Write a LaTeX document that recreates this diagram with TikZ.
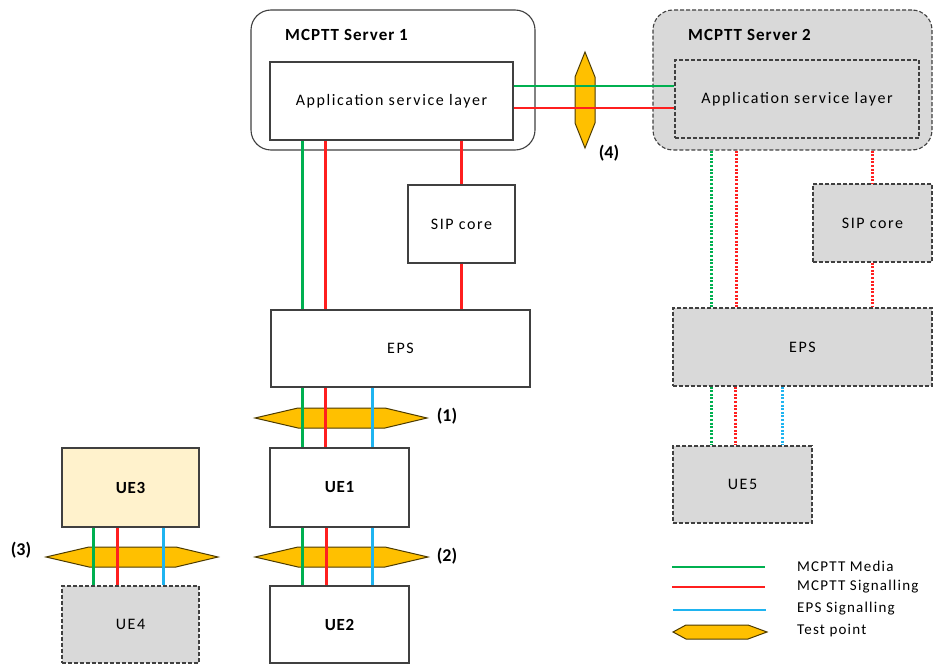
\documentclass[tikz,border=0pt]{standalone}
\usepackage{fontspec}
\setmainfont{Carlito}
\definecolor{lgreen}{HTML}{00B050}
\definecolor{lred}{HTML}{FF1F1F}
\definecolor{lblue}{HTML}{1FB4F0}
\definecolor{lgray}{HTML}{D9D9D9}
\definecolor{tpfill}{HTML}{FFC000}
\definecolor{uefill}{HTML}{FFF2CC}
\begin{document}
\begin{tikzpicture}[x=1pt,y=-1pt,
  box/.style={draw=black!75, line width=1.1pt, fill=white, inner sep=0pt, minimum width=#1, font=\fontsize{16}{18}\selectfont\addfontfeatures{LetterSpace=10}},
  dbox/.style={box=#1, fill=lgray, dash pattern=on 4pt off 2pt},
  uebold/.style={font=\fontsize{17}{19}\selectfont\bfseries\addfontfeatures{LetterSpace=4}},
  title/.style={font=\fontsize{17}{19}\selectfont\bfseries\addfontfeatures{LetterSpace=6}, anchor=west, inner sep=0pt},
  tplab/.style={font=\fontsize{18}{20}\selectfont\bfseries, inner sep=0pt},
  grn/.style={draw=lgreen, line width=2.3pt},
  rd/.style={draw=lred, line width=2.3pt},
  bl/.style={draw=lblue, line width=2.3pt},
  dots/.style={dash pattern=on 2pt off 1.6pt},
  tp/.style={draw=black!70!tpfill, fill=tpfill, line width=1pt, line join=miter},
  leg/.style={font=\fontsize{15}{17}\selectfont\addfontfeatures{LetterSpace=8}, anchor=west, inner sep=0pt}
]
\useasboundingbox (0,0) rectangle (935,666);

% ---------- Server 1 ----------
\node[box=284pt, minimum height=140pt, rounded corners=20pt] (srv1) at (393,80) {};
\node[title] (t1) at (285,35) {MCPTT Server 1};
\node[box=243pt, minimum height=78pt] (app1) at (391.5,101) {Application service layer};
\node[box=107pt, minimum height=78pt] (sip1) at (461.5,224) {SIP core};
\node[box=259pt, minimum height=77pt] (eps1) at (400.5,348.5) {EPS};
\node[box=139pt, minimum height=79pt, uebold] (ue1) at (339.5,487.5) {UE1};
\node[box=139pt, minimum height=77pt, uebold] (ue2) at (339.5,624.5) {UE2};
\node[box=137pt, minimum height=79pt, fill=uefill, uebold] (ue3) at (130.5,487.5) {UE3};
\node[dbox=137pt, minimum height=77pt] (ue4) at (130.5,624.5) {UE4};

% ---------- Server 2 ----------
\node[dbox=279pt, minimum height=140pt, rounded corners=20pt] (srv2) at (792.5,80) {};
\node[title] (t2) at (688,35) {MCPTT Server 2};
\node[dbox=244pt, minimum height=78pt] (app2) at (797,99) {Application service layer};
\node[dbox=119pt, minimum height=78pt] (sip2) at (872.5,223) {SIP core};
\node[dbox=259pt, minimum height=78pt] (eps2) at (802.5,347) {EPS};
\node[dbox=139pt, minimum height=77pt] (ue5) at (742.5,484.5) {UE5};

% ---------- Test points ----------
\draw[tp] (255,418) -- (298,408) -- (385,408) -- (427,418) -- (385,428) -- (298,428) -- cycle;
\draw[tp] (255,557) -- (298,547) -- (385,547) -- (428,557) -- (385,567) -- (298,567) -- cycle;
\draw[tp] (46,557) -- (89,547) -- (176,547) -- (218,557) -- (176,567) -- (89,567) -- cycle;
\draw[tp] (585,52) -- (595,77) -- (595,123) -- (585,148) -- (575,123) -- (575,77) -- cycle;
\node[tplab] (l1) at (447,416) {(1)};
\node[tplab] (l2) at (447,556) {(2)};
\node[tplab] (l3) at (21,550) {(3)};
\node[tplab] (l4) at (609,153) {(4)};

% ---------- Server-to-server ----------
\coordinate (s1g) at ([yshift=15pt]app1.east);
\coordinate (s1r) at ([yshift=-7pt]app1.east);
\draw[grn] (s1g) -- (s1g -| app2.west);
\draw[rd] (s1r) -- (s1r -| app2.west);

% ---------- Server 1 column ----------
\coordinate (a1g) at ([xshift=33pt]app1.south west);
\coordinate (a1r) at ([xshift=56pt]app1.south west);
\draw[grn] (a1g) -- (a1g |- eps1.north);
\draw[rd] (a1r) -- (a1r |- eps1.north);
\draw[rd] (app1.south -| sip1.north) -- (sip1.north);
\draw[rd] (sip1.south) -- (sip1.south |- eps1.north);

\coordinate (e1g) at ([xshift=32pt]eps1.south west);
\coordinate (e1r) at ([xshift=55pt]eps1.south west);
\coordinate (e1b) at ([xshift=102pt]eps1.south west);
\draw[grn] (e1g) -- (e1g |- ue1.north);
\draw[rd] (e1r) -- (e1r |- ue1.north);
\draw[bl] (e1b) -- (e1b |- ue1.north);

\coordinate (u1g) at ([xshift=33pt]ue1.south west);
\coordinate (u1r) at ([xshift=57pt]ue1.south west);
\coordinate (u1b) at ([xshift=103pt]ue1.south west);
\draw[grn] (u1g) -- (u1g |- ue2.north);
\draw[rd] (u1r) -- (u1r |- ue2.north);
\draw[bl] (u1b) -- (u1b |- ue2.north);

\coordinate (u3g) at ([xshift=32pt]ue3.south west);
\coordinate (u3r) at ([xshift=56pt]ue3.south west);
\coordinate (u3b) at ([xshift=102pt]ue3.south west);
\draw[grn] (u3g) -- (u3g |- ue4.north);
\draw[rd] (u3r) -- (u3r |- ue4.north);
\draw[bl] (u3b) -- (u3b |- ue4.north);

% ---------- Server 2 column (dotted) ----------
\coordinate (s2g) at ([xshift=59pt]srv2.south west);
\coordinate (s2r) at ([xshift=84pt]srv2.south west);
\draw[grn,dots] (s2g) -- (s2g |- eps2.north);
\draw[rd,dots] (s2r) -- (s2r |- eps2.north);
\draw[rd,dots] (srv2.south -| sip2.north) -- (sip2.north);
\draw[rd,dots] (sip2.south) -- (sip2.south |- eps2.north);

\coordinate (e2g) at ([xshift=39pt]eps2.south west);
\coordinate (e2r) at ([xshift=63pt]eps2.south west);
\coordinate (e2b) at ([xshift=110pt]eps2.south west);
\draw[grn,dots] (e2g) -- (e2g |- ue5.north);
\draw[rd,dots] (e2r) -- (e2r |- ue5.north);
\draw[bl,dots] (e2b) -- (e2b |- ue5.north);

% ---------- Legend ----------
\coordinate (lg1) at (672,567);
\coordinate (lg2) at (672,587);
\coordinate (lg3) at (673,610);
\draw[grn] (lg1) -- ++(93,0);
\draw[rd] (lg2) -- ++(93,0);
\draw[bl] (lg3) -- ++(93,0);
\draw[tp] (673,632) -- (686,625) -- (748,625) -- (767,632) -- (748,639) -- (686,639) -- cycle;
\node[leg] (m1) at (797,566) {MCPTT Media};
\node[leg] (m2) at (797,587) {MCPTT Signalling};
\node[leg] (m3) at (797,609) {EPS Signalling};
\node[leg] (m4) at (797,631) {Test point};
\end{tikzpicture}
\end{document}
